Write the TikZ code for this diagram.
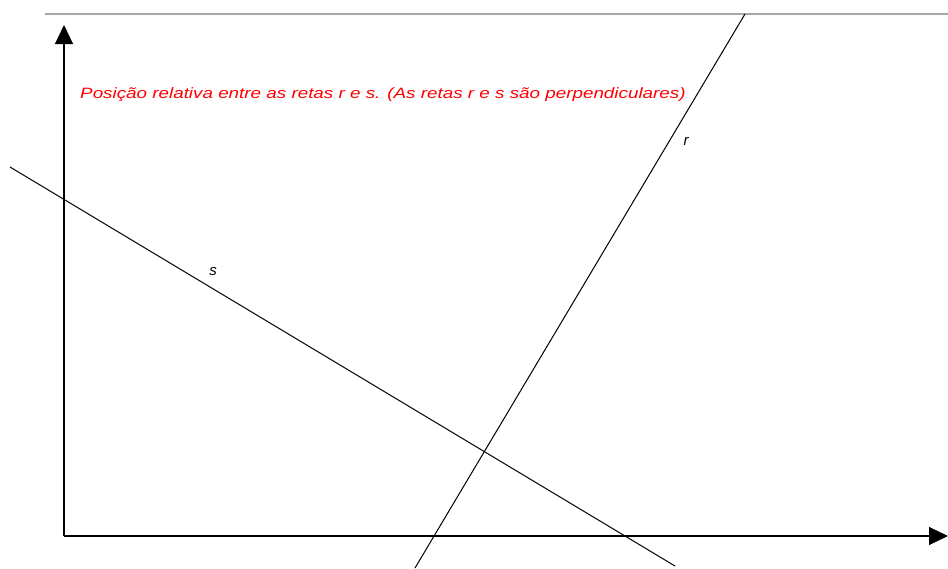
\documentclass[tikz,border=0pt]{standalone}
\usepackage{fontspec}
\setmainfont{Liberation Sans}
\usetikzlibrary{arrows.meta}
\begin{document}
\begin{tikzpicture}[x=1pt,y=-1pt,
  axis/.style={line width=1.1pt,-{Triangle[length=19pt,width=18pt]}},
  retaline/.style={line width=1pt, black},
  lbl/.style={font=\fontsize{15}{17}\selectfont\itshape, inner sep=0pt},
  title/.style={font=\fontsize{15}{17}\selectfont\itshape, text=red, inner sep=0pt, anchor=west}]
\useasboundingbox[fill=white] (0,0) rectangle (948,568);
% top border line
\coordinate (tl) at (45,14);
\coordinate (tr) at (948,14);
\draw[gray!70, line width=1.2pt] (tl) -- (tr);
% axes
\coordinate (O) at (64,536);
\coordinate (ytip) at (64,25);
\coordinate (xtip) at (948,536);
\draw[axis] (O) -- (ytip);
\draw[axis] (O) -- (xtip);
% line s
\coordinate (s1) at (10,167);
\coordinate (s2) at (675,566);
\draw[retaline] (s1) -- (s2);
% line r
\coordinate (r1) at (415,568);
\coordinate (r2) at (745,14);
\draw[retaline] (r1) -- (r2);
% labels
\node[lbl] (ls) at (213,272) {s};
\node[lbl] (lr) at (686,141) {r};
\node[title] (t) at (80,95) {\scalebox{1.255}[1]{Posição relativa entre as retas r e s. (As retas r e s são perpendiculares)}};
\end{tikzpicture}
\end{document}
